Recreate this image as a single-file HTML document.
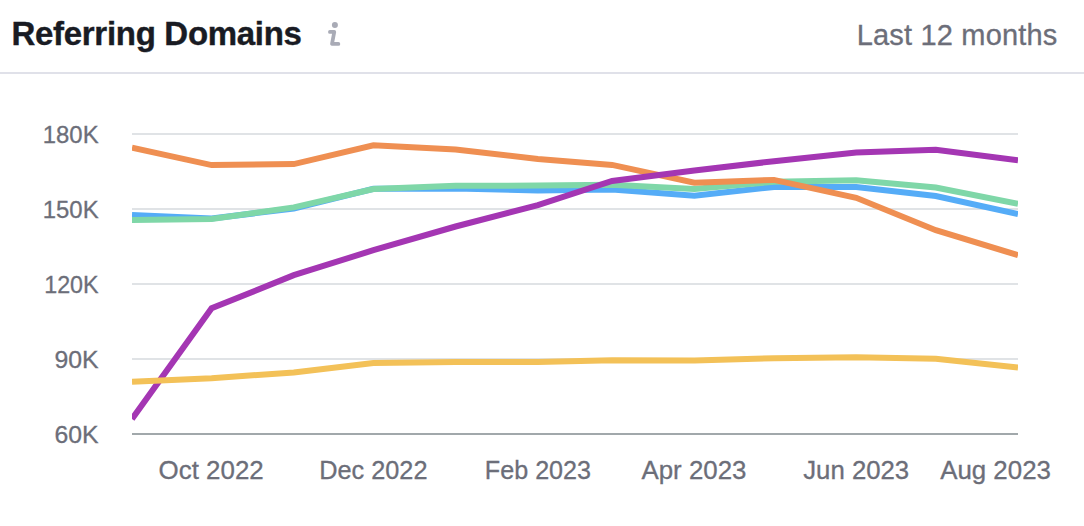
<!DOCTYPE html>
<html lang="en">
<head>
<meta charset="utf-8">
<title>Referring Domains</title>
<style>
  html, body { margin:0; padding:0; background:#fff; }
  body { width:1084px; height:526px; position:relative; overflow:hidden;
         font-family:"Liberation Sans", Arial, sans-serif; }
  .title { position:absolute; left:11.5px; top:14px; margin:0; font-size:33px; line-height:40px;
           font-weight:700; color:#191b23; white-space:nowrap; letter-spacing:-0.3px; -webkit-text-stroke:0.4px #191b23; }
  .range { position:absolute; right:26.5px; top:17px; font-size:29px; line-height:36px;
           color:#6c6e79; white-space:nowrap; letter-spacing:0.18px; -webkit-text-stroke:0.3px #6c6e79; }
  .divider { position:absolute; left:0; top:72px; width:1084px; height:2px; background:#e0e1e9; }
  svg { position:absolute; left:0; top:0; }
  svg text { font-family:"Liberation Sans", Arial, sans-serif; font-size:24.5px; fill:#6c6e79; stroke:#6c6e79; stroke-width:0.3px; }
  svg text.xl { font-size:25px; }
  .lines path { fill:none; stroke-width:6; stroke-linejoin:miter; stroke-linecap:butt; }
</style>
</head>
<body>
  <h2 class="title">Referring Domains</h2>
  <div class="range">Last 12 months</div>
  <div class="divider"></div>
  <svg width="1084" height="526" viewBox="0 0 1084 526">
    <defs><clipPath id="plot"><rect x="132" y="100" width="886" height="360"/></clipPath></defs>
    <!-- info icon -->
    <g fill="none" stroke="#a9abb6" stroke-width="3.7" stroke-linecap="round" stroke-linejoin="round">
      <path d="M329.9 31.9 H334.3 L332.0 43.9 H338.4"/>
    </g>
    <circle cx="334.9" cy="24.9" r="3" fill="#a9abb6"/>
    <!-- grid -->
    <rect x="132" y="133" width="886" height="2" fill="#e0e3e6"/>
    <rect x="132" y="208" width="886" height="2" fill="#e0e3e6"/>
    <rect x="132" y="283" width="886" height="2" fill="#e0e3e6"/>
    <rect x="132" y="358" width="886" height="2" fill="#e0e3e6"/>
    <rect x="132" y="433" width="886" height="2" fill="#a1a8ab"/>
    <!-- y labels -->
    <text x="42.8" y="143.3" textLength="55.8" lengthAdjust="spacingAndGlyphs">180K</text>
    <text x="42.8" y="218.3" textLength="55.8" lengthAdjust="spacingAndGlyphs">150K</text>
    <text x="44.2" y="293.3" textLength="54.4" lengthAdjust="spacingAndGlyphs">120K</text>
    <text x="54.5" y="368.3" textLength="44.1" lengthAdjust="spacingAndGlyphs">90K</text>
    <text x="54.5" y="443.3" textLength="44.1" lengthAdjust="spacingAndGlyphs">60K</text>
    <!-- x labels -->
    <text class="xl" x="158.6" y="479" textLength="105.1" lengthAdjust="spacingAndGlyphs">Oct 2022</text>
    <text class="xl" x="319.2" y="479" textLength="108.3" lengthAdjust="spacingAndGlyphs">Dec 2022</text>
    <text class="xl" x="484.8" y="479" textLength="106.3" lengthAdjust="spacingAndGlyphs">Feb 2023</text>
    <text class="xl" x="641.5" y="479" textLength="104.9" lengthAdjust="spacingAndGlyphs">Apr 2023</text>
    <text class="xl" x="803.2" y="479" textLength="106.0" lengthAdjust="spacingAndGlyphs">Jun 2023</text>
    <text class="xl" x="940.2" y="479" textLength="110.7" lengthAdjust="spacingAndGlyphs">Aug 2023</text>
    <!-- series -->
    <g class="lines" clip-path="url(#plot)">
    <path d="M132.0 215.0 L211.6 218.4 L293.8 208.6 L373.4 188.8 L455.6 188.6 L537.9 190.4 L612.1 189.4 L694.4 195.7 L774.0 187.0 L856.2 187.0 L935.8 196.0 L1018.0 214.1" stroke="#55acf7"/>
    <path d="M132.0 219.9 L211.6 218.9 L293.8 207.4 L373.4 189.1 L455.6 185.8 L537.9 185.6 L612.1 184.7 L694.4 189.0 L774.0 181.7 L856.2 180.2 L935.8 187.5 L1018.0 203.8" stroke="#7fd7a8"/>
    <path d="M132.0 147.8 L211.6 165.1 L293.8 164.1 L373.4 145.3 L455.6 149.6 L537.9 159.0 L612.1 164.9 L694.4 182.7 L774.0 179.9 L856.2 197.8 L935.8 230.2 L1018.0 255.2" stroke="#ef8f52"/>
    <path d="M132.0 419.0 L211.6 308.3 L293.8 275.2 L373.4 250.2 L455.6 226.5 L537.9 205.2 L612.1 180.9 L694.4 170.4 L774.0 161.2 L856.2 152.4 L935.8 149.7 L1018.0 160.3" stroke="#a436b3"/>
    <path d="M132.0 381.8 L211.6 378.3 L293.8 372.4 L373.4 362.9 L455.6 361.9 L537.9 361.9 L612.1 360.3 L694.4 360.5 L774.0 358.2 L856.2 357.2 L935.8 358.8 L1018.0 367.5" stroke="#f3c158"/>
    </g>
  </svg>
</body>
</html>
